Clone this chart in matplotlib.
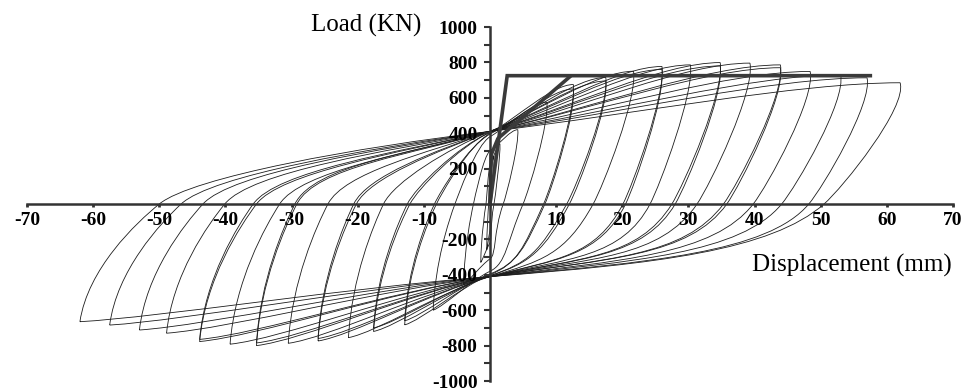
import numpy as np
import matplotlib.pyplot as plt
from matplotlib.path import Path
from matplotlib.patches import PathPatch

plt.rcParams['font.family'] = ['Liberation Serif', 'DejaVu Serif']
plt.rcParams['axes.unicode_minus'] = False

# one entry per load cycle
# positive side: peak displacement (mm), peak load (kN), x-axis crossing while unloading
pos_disp = [0.6, 1.5, 4.2, 8.6, 12.6, 12.6, 17.5, 17.5, 21.7, 26.0, 26.0, 30.3, 34.8, 34.8, 39.3, 43.9, 43.9, 48.4, 53.0, 57.0, 62.0]
pos_load = [270, 340, 420, 575, 675, 650, 715, 695, 750, 777, 760, 786, 799, 780, 796, 786, 770, 749, 730, 713, 685]
pos_zero = [0.2, 0.6, 2.0, 5.0, 8.1, 8.3, 11.6, 12.0, 15.6, 20.1, 20.5, 24.2, 27.5, 28.0, 31.3, 35.3, 35.8, 39.8, 44.1, 48.2, 50.5]
# negative side, magnitudes
neg_disp = [0.5, 1.4, 4.0, 8.6, 12.9, 12.9, 17.6, 17.6, 21.4, 26.0, 26.0, 30.5, 35.3, 35.3, 39.3, 43.9, 43.9, 48.9, 53.0, 57.5, 62.0]
neg_load = [260, 330, 455, 600, 683, 660, 720, 700, 755, 774, 760, 787, 800, 785, 792, 777, 765, 730, 712, 684, 665]
neg_zero = [0.2, 0.6, 2.5, 5.3, 8.1, 8.4, 12.1, 12.5, 16.1, 20.2, 20.6, 24.5, 29.2, 29.5, 31.8, 35.3, 35.8, 40.1, 43.4, 46.7, 50.0]
# loads where the reloading branches cross the load axis (pinching)
pinch_up = [150, 220, 300, 380, 400, 395, 405, 405, 410, 410, 410, 410, 410, 410, 410, 410, 410, 410, 410, 410, 410]
pinch_dn = [150, 220, 310, 380, 400, 395, 405, 405, 410, 410, 410, 410, 410, 410, 410, 410, 410, 410, 410, 410, 410]

# bilinear idealisation (thick lines)
bil_x = [0, 2.6, 57.5]
bil_y = [0, 725, 725]
env_x = [0, 0.2, 1.2, 12.1]
env_y = [0, 280, 370, 720]

xticks = [-70, -60, -50, -40, -30, -20, -10, 10, 20, 30, 40, 50, 60, 70]
yticks = [-1000, -800, -600, -400, -200, 200, 400, 600, 800, 1000]


def loop_path(dp, pp, zp, dn, pn, zn, qu, qd):
    su = (pp - qu) / dp
    sd = (pn - qd) / dn
    wp = dp - zp
    wn = dn - zn
    mp = 0.55 * pp / wp
    mn = 0.55 * pn / wn
    verts = [
        (-dn, -pn),
        (-dn + 0.1 * wn, -0.55 * pn), (-zn - 0.3 * wn, -0.3 * wn * mn), (-zn, 0),
        (-zn + 0.1 * zn, 0.1 * zn * mn), (-0.4 * zn, qu - 0.4 * zn * su), (0, qu),
        (0.35 * dp, qu + 0.35 * dp * su), (0.75 * dp, pp), (dp, pp),
        (dp + 0.1 * wp, 0.8 * pp), (zp + 0.25 * wp, 0.25 * wp * mp), (zp, 0),
        (zp - 0.7 * wp, -0.7 * wp * mp), (0.5 * zp, -qd + 0.35 * zp * sd), (0, -qd),
        (-0.35 * dn, -qd - 0.25 * dn * sd), (-0.8 * dn, -0.96 * pn), (-dn, -pn),
    ]
    codes = [Path.MOVETO] + [Path.CURVE4] * 18
    return Path(verts, codes)


fig = plt.figure(figsize=(9.67, 3.91), dpi=100)
ax = fig.add_axes([27 / 967, 10 / 391, 926 / 967, 354 / 391])

for i in range(len(pos_disp)):
    p = loop_path(pos_disp[i], pos_load[i], pos_zero[i],
                  neg_disp[i], neg_load[i], neg_zero[i],
                  pinch_up[i], pinch_dn[i])
    ax.add_patch(PathPatch(p, facecolor='none', edgecolor='#1c1c1c', lw=0.6))

ax.plot(bil_x, bil_y, color='#3a3a3a', lw=2.6, solid_joinstyle='miter')
ax.plot(env_x, env_y, color='#3a3a3a', lw=2.6)

ax.set_xlim(-70, 70)
ax.set_ylim(-1000, 1000)
for s in ['top', 'right']:
    ax.spines[s].set_visible(False)
ax.spines['left'].set_position(('data', 0))
ax.spines['bottom'].set_position(('data', 0))
for s in ['left', 'bottom']:
    ax.spines[s].set_color('#333333')
    ax.spines[s].set_linewidth(1.8)

ax.set_xticks(xticks)
ax.set_yticks(yticks)
ax.set_yticks(np.arange(-900, 1000, 200), minor=True)
ax.tick_params(axis='y', which='both', direction='out', length=4, width=1.5, color='#333333', pad=5)
ax.tick_params(axis='x', direction='out', length=2, width=2, color='#333333', pad=4)
ax.tick_params(axis='x', which='minor', length=0)
for lab in ax.get_xticklabels() + ax.get_yticklabels():
    lab.set_fontweight('bold')
    lab.set_fontsize(14)

fig.text(366 / 967, 1 - 25 / 391, 'Load (KN)', ha='center', va='center', fontsize=18)
fig.text(852 / 967, 1 - 265 / 391, 'Displacement (mm)', ha='center', va='center', fontsize=18)

fig.savefig('out.png', dpi=100)
